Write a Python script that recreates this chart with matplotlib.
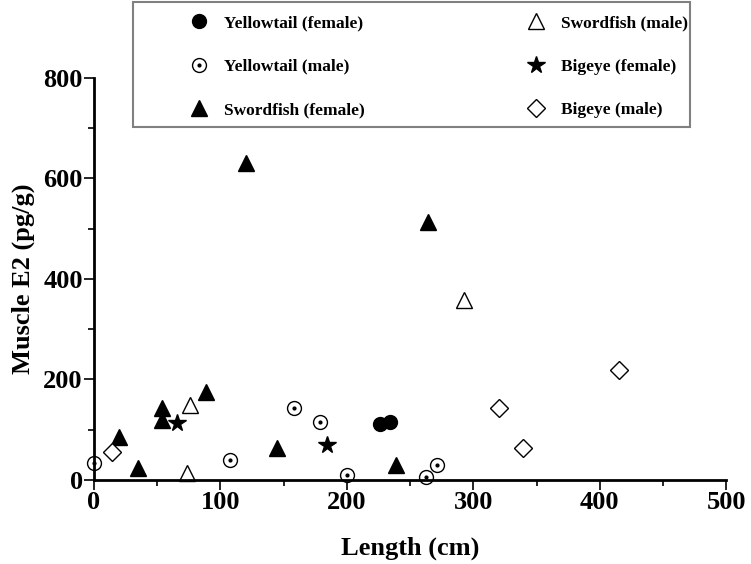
import numpy as np
import matplotlib.pyplot as plt
from matplotlib.legend_handler import HandlerTuple
from matplotlib.patches import Rectangle

plt.rcParams['font.family'] = ['Liberation Serif', 'DejaVu Serif']
plt.rcParams['font.weight'] = 'bold'

# data: length (cm), muscle E2 (pg/g)
yt_f_x = [226, 234]
yt_f_y = [112, 116]
yt_m_x = [0, 108, 158, 179, 200, 263, 271]
yt_m_y = [34, 40, 143, 115, 10, 6, 30]
sw_f_x = [20, 35, 54, 54, 89, 120, 145, 239, 264]
sw_f_y = [86, 24, 143, 119, 175, 631, 64, 30, 513]
sw_m_x = [76, 74, 293]
sw_m_y = [149, 14, 358]
be_f_x = [66, 184]
be_f_y = [113, 70]
be_m_x = [14, 320, 339, 415]
be_m_y = [56, 143, 64, 219]

fig = plt.figure(figsize=(7.51, 5.64), dpi=100)
ax = fig.add_axes([0.125, 0.149, 0.842, 0.713])

h1, = ax.plot(yt_f_x, yt_f_y, 'o', color='black', ms=10, ls='none')
h2a, = ax.plot(yt_m_x, yt_m_y, 'o', mfc='white', mec='black', mew=1.0, ms=10, ls='none')
h2b, = ax.plot(yt_m_x, yt_m_y, 'o', color='black', ms=2, ls='none')
h3, = ax.plot(sw_f_x, sw_f_y, '^', color='black', ms=11, ls='none')
h4, = ax.plot(sw_m_x, sw_m_y, '^', mfc='white', mec='black', mew=1.0, ms=11, ls='none')
h5, = ax.plot(be_f_x, be_f_y, '*', color='black', ms=13, ls='none')
h6, = ax.plot(be_m_x, be_m_y, 'D', mfc='white', mec='black', mew=1.0, ms=9, ls='none')
for h in [h1, h2a, h2b, h3, h4, h5, h6]:
    h.set_clip_on(False)

ax.set_xlim(0, 500)
ax.set_ylim(0, 800)
ax.set_xticks(np.arange(0, 501, 100))
ax.set_xticks(np.arange(50, 500, 100), minor=True)
ax.set_yticks(np.arange(0, 801, 200))
ax.set_yticks(np.arange(100, 800, 200), minor=True)
ax.spines['top'].set_visible(False)
ax.spines['right'].set_visible(False)
ax.spines['left'].set_linewidth(2)
ax.spines['bottom'].set_linewidth(2)
ax.tick_params(which='both', direction='out', width=1.2, labelsize=19)
ax.tick_params(which='major', length=7, pad=1)
ax.tick_params(which='minor', length=4)
for lbl in ax.get_xticklabels() + ax.get_yticklabels():
    lbl.set_fontweight('bold')
ax.set_xlabel('Length (cm)', fontsize=19, fontweight='bold', labelpad=16)
ax.set_ylabel('Muscle E2 (pg/g)', fontsize=19, fontweight='bold', labelpad=6)

handles = [h1, (h2a, h2b), h3, h4, h5, h6]
labels = ['Yellowtail (female)', 'Yellowtail (male)', 'Swordfish (female)',
          'Swordfish (male)', 'Bigeye (female)', 'Bigeye (male)']
leg = fig.legend(handles, labels, ncol=2, loc='upper left',
                 bbox_to_anchor=(182 / 751, 1 - 15 / 564), frameon=False,
                 prop={'size': 12.5, 'weight': 'bold'}, labelspacing=1.58,
                 handlelength=2.0, handletextpad=0.4, columnspacing=8.9,
                 handler_map={tuple: HandlerTuple(ndivide=1)},
                 borderaxespad=0, borderpad=0)
fig.patches.append(Rectangle((133 / 751, 1 - 127 / 564), 557 / 751, 125 / 564,
                             transform=fig.transFigure, fill=False,
                             edgecolor='gray', linewidth=1.5))

fig.savefig('out.png', dpi=100)
